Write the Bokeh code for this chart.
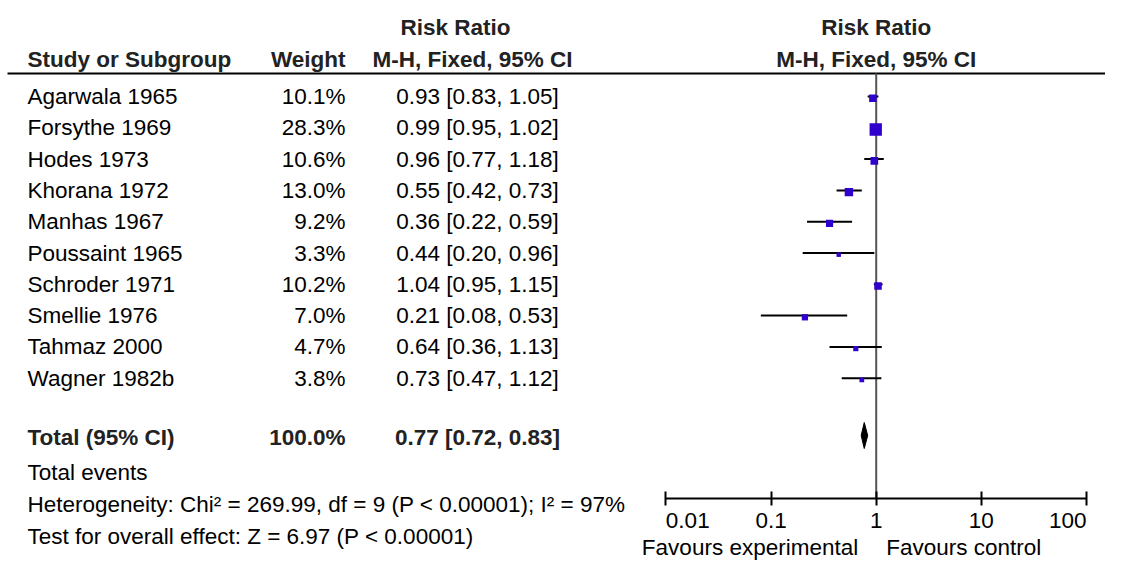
from bokeh.plotting import figure
from bokeh.models import Range1d, FixedTicker, ColumnDataSource, LogAxis, LogScale
from bokeh.embed import file_html
from bokeh.resources import INLINE
from bokeh.core.properties import value

# ---------------- data ----------------
studies = ["Agarwala 1965", "Forsythe 1969", "Hodes 1973", "Khorana 1972", "Manhas 1967",
           "Poussaint 1965", "Schroder 1971", "Smellie 1976", "Tahmaz 2000", "Wagner 1982b"]
weights = [10.1, 28.3, 10.6, 13.0, 9.2, 3.3, 10.2, 7.0, 4.7, 3.8]
rr = [0.93, 0.99, 0.96, 0.55, 0.36, 0.44, 1.04, 0.21, 0.64, 0.73]
lower = [0.83, 0.95, 0.77, 0.42, 0.22, 0.20, 0.95, 0.08, 0.36, 0.47]
upper = [1.05, 1.02, 1.18, 0.73, 0.59, 0.96, 1.15, 0.53, 1.13, 1.12]
total_label = "Total (95% CI)"
total_weight = 100.0
total_rr, total_lo, total_hi = 0.77, 0.72, 0.83
tick_vals = [0.01, 0.1, 1, 10, 100]
tick_labels = ["0.01", "0.1", "1", "10", "100"]
favours_left = "Favours experimental"
favours_right = "Favours control"
events_text = "Total events"
heterogeneity_text = "Heterogeneity: Chi\u00b2 = 269.99, df = 9 (P < 0.00001); I\u00b2 = 97%"
overall_text = "Test for overall effect: Z = 6.97 (P < 0.00001)"

# ---------------- layout / style ----------------
FONT = "Liberation Sans"
FS = "22.5px"
TICK_FS = "22.5px"
BOLD_COLOR = "#222222"
BLUE = "#3000cc"
W, H = 1105, 563
X1, DEC = 875.7, 105.17          # pixel of RR=1 and pixels per decade
AXIS_Y = 497.5
HEADER_Y = 73
Y0, DY = 96, 31.3
Y_TOTAL, Y_EVENTS, Y_HET, Y_TEST = 437, 472, 504, 536
Y_TICKLAB, Y_FAVOURS = 520, 547

n = len(studies)
ys = [Y0 + i * DY for i in range(n)]

log_range = Range1d(10 ** ((0 - X1) / DEC), 10 ** ((W - X1) / DEC))
p = figure(width=W, height=H, x_range=Range1d(0, W), y_range=Range1d(H, 0),
           extra_x_ranges={"log": log_range}, extra_x_scales={"log": LogScale()},
           x_axis_type=None, y_axis_type=None, toolbar_location=None,
           output_backend="svg", min_border=0, outline_line_color=None)
p.grid.visible = False


def txt(x, y, t, align="left", bold=False, size=FS, rng="default", x_offset=0):
    p.text(x=[x], y=[y], text=[t], text_align=align, text_baseline="middle",
           text_font=value(FONT), text_font_size=size, x_offset=x_offset,
           text_font_style="bold" if bold else "normal",
           text_color=BOLD_COLOR if bold else "black", x_range_name=rng)


# ---------------- headers ----------------
txt(455, 27, "Risk Ratio", "center", True)
txt(27, 59, "Study or Subgroup", "left", True)
txt(345, 59, "Weight", "right", True)
txt(472, 59, "M-H, Fixed, 95% CI", "center", True)
txt(1, 27, "Risk Ratio", "center", True, rng="log")
txt(1, 59, "M-H, Fixed, 95% CI", "center", True, rng="log")
p.segment(x0=[7], y0=[HEADER_Y], x1=[W], y1=[HEADER_Y], line_width=2, line_color="black")

# ---------------- study rows (text) ----------------
src = ColumnDataSource(dict(
    y=ys, study=studies,
    w=[f"{w:.1f}%" for w in weights],
    ci=[f"{r:.2f} [{a:.2f}, {b:.2f}]" for r, a, b in zip(rr, lower, upper)],
))
common = dict(text_baseline="middle", text_font=value(FONT), text_font_size=FS, text_color="black")
p.text(x=27, y="y", text="study", source=src, text_align="left", **common)
p.text(x=345, y="y", text="w", source=src, text_align="right", **common)
p.text(x=477, y="y", text="ci", source=src, text_align="center", **common)

txt(27, Y_TOTAL, total_label, "left", True)
txt(345, Y_TOTAL, f"{total_weight:.1f}%", "right", True)
txt(477, Y_TOTAL, f"{total_rr:.2f} [{total_lo:.2f}, {total_hi:.2f}]", "center", True)
txt(27, Y_EVENTS, events_text)
txt(27, Y_HET, heterogeneity_text)
txt(27, Y_TEST, overall_text)

# ---------------- forest plot ----------------
p.segment(x0=[1], y0=[HEADER_Y], x1=[1], y1=[AXIS_Y], line_width=2, line_color="#555555",
          x_range_name="log")

fsrc = ColumnDataSource(dict(
    y=ys, ym=[y + 1.7 for y in ys], rr=rr, lo=lower, hi=upper,
    size=[2.26 * (w ** 0.5) + 0.3 for w in weights],
))
p.segment(x0="lo", y0="y", x1="hi", y1="y", source=fsrc, line_width=2, line_color="black",
          x_range_name="log")
p.scatter(x="rr", y="ym", size="size", marker="square", source=fsrc,
          fill_color=BLUE, line_color=None, x_range_name="log")
p.patch(x=[total_lo, total_rr, total_hi, total_rr],
        y=[Y_TOTAL - 2, Y_TOTAL - 15, Y_TOTAL - 2, Y_TOTAL + 11],
        fill_color="black", line_color="black", x_range_name="log")

ax = LogAxis(x_range_name="log", fixed_location=AXIS_Y,
             ticker=FixedTicker(ticks=tick_vals, minor_ticks=[]),
             bounds=(tick_vals[0], tick_vals[-1]))
ax.major_label_overrides = {v: "" for v in tick_vals}
ax.axis_line_width = 2
ax.axis_line_color = "black"
ax.major_tick_line_width = 2
ax.major_tick_line_color = "black"
ax.major_tick_in = 7
ax.major_tick_out = 7
ax.minor_tick_line_color = None
p.add_layout(ax, "below")

aligns = ["left"] + ["center"] * (len(tick_vals) - 2) + ["right"]
p.text(x=tick_vals, y=[Y_TICKLAB] * len(tick_vals), text=tick_labels, text_align=aligns,
       text_baseline="middle", text_font=value(FONT), text_font_size=TICK_FS,
       text_color="black", x_range_name="log")

txt(1, Y_FAVOURS, favours_left, "right", size=TICK_FS, rng="log", x_offset=-18)
txt(1, Y_FAVOURS, favours_right, "left", size=TICK_FS, rng="log", x_offset=10)

open("out.html", "w").write(file_html(p, INLINE))
